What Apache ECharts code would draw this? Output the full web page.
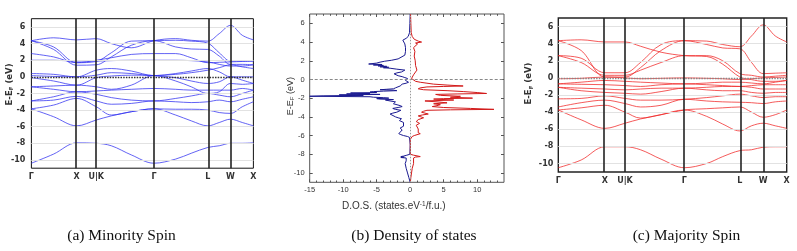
<!DOCTYPE html>
<html><head><meta charset="utf-8">
<script src="https://cdn.jsdelivr.net/npm/echarts@6/dist/echarts.min.js"></script>
<style>html,body{margin:0;padding:0;background:#fff}#c{width:797px;height:251px}</style>
</head><body><div id="c"></div><script>
// k-path sample positions (fraction of path length)
const kPoints = [0, 0.1, 0.204, 0.292, 0.36, 0.45, 0.552, 0.65, 0.72, 0.795, 0.846, 0.897, 0.95, 1.0];
const kTickPos = [0, 0.204, 0.292, 0.552, 0.795, 0.897, 1.0];
const kTickLabels = ['Γ', 'X', 'U|K', 'Γ', 'L', 'W', 'X'];
const energyTicks = [-10, -8, -6, -4, -2, 0, 2, 4, 6];

// Minority spin bands (eV) at kPoints
const minorityBands = [
  [-10.4,-9.3,-7.95,-8.0,-8.3,-9.4,-10.4,-9.9,-9.2,-8.5,-8.3,-8.0,-8.0,-7.95],
  [-3.85,-4.8,-5.9,-5.2,-4.7,-4.2,-3.85,-4.6,-5.3,-5.9,-5.5,-5.1,-5.5,-5.9],
  [-3.85,-3.4,-2.6,-3.6,-4.6,-4.2,-3.85,-3.9,-3.9,-4.0,-4.3,-4.4,-3.6,-3.0],
  [-2.9,-2.8,-2.35,-2.9,-3.3,-3.2,-2.9,-3.0,-3.1,-3.0,-2.8,-3.0,-2.7,-2.4],
  [-2.9,-2.4,-1.8,-2.1,-2.5,-2.8,-2.9,-2.6,-2.3,-2.0,-2.2,-2.4,-2.0,-1.6],
  [-1.2,-1.5,-1.8,-1.7,-1.6,-1.5,-1.4,-1.5,-1.6,-1.6,-1.6,-1.6,-1.4,-1.6],
  [-1.2,-1.1,-1.0,-1.2,-1.5,-1.0,0.15,-0.5,-1.2,-2.0,-1.8,-0.8,-0.9,-0.8],
  [-0.1,-0.5,-1.0,-0.1,0.1,0.2,0.15,-0.1,-0.5,-0.8,-0.6,0.0,-0.4,-0.8],
  [0.15,0.05,0.0,0.2,0.5,0.4,0.15,0.4,0.7,1.0,0.6,0.0,0.0,0.0],
  [0.4,0.3,0.0,0.8,1.0,0.7,0.15,0.3,0.5,0.8,1.1,1.45,1.2,1.0],
  [2.0,2.0,1.9,1.9,1.95,2.0,2.0,2.0,1.95,1.8,1.5,1.3,1.3,1.45],
  [2.8,2.4,1.7,2.0,2.3,2.7,2.8,2.8,2.3,1.7,1.75,1.8,1.85,1.9],
  [4.35,3.3,1.4,1.45,2.4,3.8,4.35,3.6,3.35,3.3,2.5,1.5,1.5,1.45],
  [4.35,4.7,4.45,4.6,4.0,3.5,4.35,4.6,4.4,4.3,5.2,6.2,5.0,4.45],
  [4.35,3.6,1.7,1.85,2.9,4.3,4.35,4.4,4.3,4.05,2.9,1.9,1.9,1.9]
];

// Majority spin bands (eV) at kPoints
const majorityBands = [
  [-10.5,-9.6,-8.05,-8.05,-8.4,-9.5,-10.5,-10.0,-9.2,-8.5,-8.4,-8.1,-8.05,-8.05],
  [-3.75,-4.9,-5.9,-5.3,-4.8,-4.3,-3.75,-4.5,-5.4,-6.2,-5.6,-5.3,-5.6,-5.9],
  [-3.75,-3.5,-3.2,-4.0,-4.7,-4.3,-3.75,-3.6,-3.5,-3.4,-4.0,-4.6,-4.3,-3.75],
  [-3.4,-2.9,-2.6,-3.0,-3.4,-3.2,-2.5,-2.7,-2.8,-2.85,-2.9,-3.0,-2.8,-2.7],
  [-2.45,-2.4,-2.1,-2.4,-2.6,-2.6,-2.5,-2.3,-2.1,-1.9,-2.1,-2.3,-2.2,-2.2],
  [-1.1,-1.5,-1.7,-1.8,-1.9,-1.6,-1.2,-1.4,-1.5,-1.5,-1.7,-1.8,-1.7,-1.7],
  [-1.1,-1.2,-1.3,-1.4,-1.3,-1.2,-1.2,-1.1,-1.0,-1.0,-1.1,-1.3,-1.3,-1.3],
  [-0.7,-0.75,-0.8,-0.9,-1.0,-0.8,-0.7,-0.8,-0.9,-1.0,-0.9,-0.8,-0.8,-0.8],
  [-0.7,-0.5,-0.3,-0.4,-0.5,-0.6,-0.7,-0.6,-0.5,-0.5,-0.6,-0.7,-0.5,-0.3],
  [-0.1,-0.05,0.1,0.0,-0.1,-0.05,0.0,-0.05,-0.1,-0.2,-0.1,0.0,0.05,0.1],
  [2.6,1.8,0.3,0.3,0.9,1.8,2.6,2.6,2.0,0.5,0.3,0.1,0.2,0.3],
  [2.6,2.3,0.6,0.6,1.8,3.9,4.35,3.9,3.5,3.4,1.8,0.5,0.55,0.6],
  [4.35,3.2,0.1,0.1,1.2,3.2,4.35,4.3,3.9,3.64,4.9,6.2,4.9,4.2],
  [4.35,4.45,4.2,4.2,3.7,3.0,2.6,2.5,1.6,0.1,-0.2,-0.4,-0.4,-0.3]
];

// DOS: [energy (eV), states/eV/f.u.]; minority plotted negative
const dosMinority = [
  [7.0,0],[6.0,-0.05],[5.0,-0.1],[4.6,-0.3],[4.4,-0.6],[4.2,-1.1],[4.0,-1.2],[3.8,-0.8],[3.6,-0.6],[3.4,-0.7],
  [3.2,-0.9],[3.0,-0.7],[2.8,-0.5],[2.6,-0.8],[2.4,-1.0],[2.2,-1.8],[2.05,-2.8],[1.95,-3.8],[1.85,-4.5],[1.75,-5.0],
  [1.65,-6.2],[1.6,-4.2],[1.55,-5.5],[1.5,-4.0],[1.45,-4.8],[1.4,-3.5],[1.35,-4.5],[1.3,-3.2],[1.25,-4.0],[1.2,-3.0],
  [1.1,-2.0],[1.0,-0.8],[0.9,-1.0],[0.8,-1.3],[0.7,-2.0],[0.6,-2.4],[0.5,-2.5],[0.4,-1.8],[0.3,-1.2],[0.2,-0.8],
  [0.1,-0.4],[0.0,-0.3],[-0.1,-0.7],[-0.2,-0.5],[-0.3,-0.25],[-0.4,-0.6],[-0.5,-1.2],[-0.6,-1.4],[-0.7,-1.5],[-0.8,-1.7],
  [-0.9,-2.2],[-1.0,-2.5],[-1.05,-3.5],[-1.1,-4.5],[-1.15,-2.5],[-1.2,-2.0],[-1.25,-4.0],[-1.3,-5.5],[-1.35,-6.0],[-1.4,-5.0],
  [-1.45,-8.9],[-1.5,-6.0],[-1.55,-9.5],[-1.6,-4.5],[-1.65,-10.6],[-1.7,-7.0],[-1.75,-13.0],[-1.8,-15.0],[-1.85,-6.0],[-1.9,-5.5],
  [-1.95,-4.0],[-2.0,-3.2],[-2.05,-5.0],[-2.1,-4.5],[-2.15,-2.5],[-2.2,-3.7],[-2.3,-3.0],[-2.4,-2.2],[-2.5,-2.0],[-2.6,-2.5],
  [-2.7,-2.3],[-2.8,-1.5],[-2.9,-1.2],[-3.0,-1.8],[-3.1,-2.6],[-3.2,-2.2],[-3.3,-1.4],[-3.4,-1.2],[-3.5,-2.0],[-3.6,-2.6],
  [-3.7,-3.0],[-3.8,-3.2],[-3.9,-2.8],[-4.0,-2.2],[-4.1,-1.8],[-4.2,-1.3],[-4.4,-1.6],[-4.6,-1.0],[-4.8,-1.2],[-5.0,-1.0],
  [-5.2,-1.5],[-5.4,-1.2],[-5.6,-1.4],[-5.8,-1.7],[-5.9,-1.4],[-6.0,-1.0],[-6.1,-0.4],[-6.2,-0.1],[-6.4,0],[-7.0,0],
  [-8.0,-0.05],[-8.1,-0.5],[-8.2,-1.0],[-8.25,-1.4],[-8.3,-0.9],[-8.35,-1.4],[-8.4,-0.6],[-8.5,-0.5],[-8.7,-0.6],[-9.0,-0.75],
  [-9.5,-0.6],[-10.0,-0.4],[-10.5,-0.2],[-11.0,0]
];
const dosMajority = [
  [7,0.05],[6,0.1],[5,0.15],[4.6,0.3],[4.3,0.6],[4.1,1.2],[4.0,1.7],[3.9,0.8],[3.8,1.1],[3.6,0.9],
  [3.4,0.5],[3.2,0.6],[3.0,0.7],[2.5,0.6],[2.0,0.75],[1.5,0.8],[1.0,1.0],[0.8,0.8],[0.5,0.5],[0.3,0.3],
  [0.1,0.2],[0,0.3],[-0.1,0.4],[-0.2,0.8],[-0.3,1.5],[-0.4,2.5],[-0.5,3.5],[-0.6,5.5],[-0.7,7.9],[-0.75,5.0],
  [-0.8,2.5],[-0.9,1.5],[-1.0,1.2],[-1.1,2.0],[-1.2,5.5],[-1.3,8.0],[-1.4,10.0],[-1.5,11.4],[-1.55,7.0],[-1.6,3.8],
  [-1.7,4.5],[-1.8,7.5],[-1.9,6.0],[-2.0,9.3],[-2.05,5.0],[-2.1,3.5],[-2.2,6.5],[-2.3,2.2],[-2.4,4.0],[-2.5,5.5],
  [-2.6,3.5],[-2.7,4.5],[-2.8,4.0],[-2.9,3.3],[-3.0,5.0],[-3.1,9.0],[-3.2,12.5],[-3.25,6.0],[-3.3,2.5],[-3.4,2.0],
  [-3.5,1.7],[-3.6,2.2],[-3.7,2.7],[-3.8,1.8],[-3.9,1.2],[-4.0,1.6],[-4.1,2.0],[-4.3,1.2],[-4.5,0.9],[-4.7,1.4],
  [-4.9,0.9],[-5.1,0.7],[-5.3,1.2],[-5.5,1.0],[-5.7,1.2],[-5.8,1.5],[-5.9,1.3],[-6.0,0.6],[-6.1,0.3],[-6.2,0.1],
  [-6.4,0.02],[-8.0,0.02],[-8.1,0.5],[-8.2,1.2],[-8.25,1.5],[-8.3,0.8],[-8.4,0.5],[-8.6,0.7],[-9.0,0.5],[-9.5,0.3],
  [-10.0,0.2],[-10.5,0.1],[-11,0.02]
];
const dosTicksX = [-15, -10, -5, 0, 5, 10];
const captions = ['(a) Minority Spin', '(b) Density of states', '(c) Majority Spin'];

const chart = echarts.init(document.getElementById('c'), null, {renderer: 'canvas'});

const bandLabelStyle = {fontFamily: 'DejaVu Sans', fontWeight: 'bold', fontSize: 8, color: '#333'};
function kLabel(v) {
  const i = kTickPos.findIndex(p => Math.abs(p - v) < 1e-6);
  return i >= 0 ? kTickLabels[i] : '';
}
function bandX(grid) {
  return {type: 'value', gridIndex: grid, min: 0, max: 1,
    axisLine: {show: false, onZero: false}, axisTick: {show: false}, splitLine: {show: false},
    axisLabel: Object.assign({customValues: kTickPos, formatter: kLabel, margin: 5}, bandLabelStyle)};
}
function bandY(grid, gap, margin, shift) {
  return {type: 'value', gridIndex: grid, min: -11, max: 7,
    axisLine: {show: false, onZero: false}, axisTick: {show: false}, splitLine: {show: false},
    axisLabel: Object.assign({customValues: energyTicks, margin: margin}, bandLabelStyle),
    name: 'E-E{s|F} (eV)', nameLocation: 'middle', nameRotate: 90, nameGap: gap, nameMoveOverlap: false,
    nameTextStyle: {fontFamily: 'DejaVu Sans', fontWeight: 'bold', fontSize: 8.5, color: '#333',
      padding: [0, 0, 0, shift],
      rich: {s: {fontFamily: 'DejaVu Sans', fontWeight: 'bold', fontSize: 5.5, color: '#333', padding: [5, 0, 0, 0]}}}};
}
function bandSeries(bands, ax, color, fermiColor) {
  const out = [];
  out.push({type: 'line', xAxisIndex: ax, yAxisIndex: ax, data: [[0, 0]], symbol: 'none',
    lineStyle: {opacity: 0}, silent: true, z: 1,
    markLine: {silent: true, symbol: ['none', 'none'], label: {show: false}, animation: false,
      lineStyle: {color: '#e2e2e2', width: 1, type: 'solid'},
      data: energyTicks.filter(v => v !== 0).map(v => ({yAxis: v}))}});
  bands.forEach(b => {
    out.push({type: 'line', xAxisIndex: ax, yAxisIndex: ax, smooth: 0.35, symbol: 'none', z: 2,
      lineStyle: {color: color, width: 0.9}, data: kPoints.map((k, i) => [k, b[i]])});
  });
  out.push({type: 'line', xAxisIndex: ax, yAxisIndex: ax, data: [[0, 0]], symbol: 'none',
    lineStyle: {opacity: 0}, silent: true, z: 3,
    markLine: {silent: true, symbol: ['none', 'none'], label: {show: false}, animation: false,
      data: [
        {yAxis: 0, lineStyle: {color: fermiColor, width: 1.3, type: [1.5, 1.2]}},
        ...kTickPos.slice(1, -1).map(v => ({xAxis: v, lineStyle: {color: '#222', width: 1.6, type: 'solid'}}))
      ]}});
  return out;
}

const dosLabel = {fontFamily: 'Liberation Sans', fontSize: 7.5, color: '#333'};
const dosTick = {inside: true, length: 3, customValues: dosTicksX, lineStyle: {color: '#555'}};
const dosMinor = {show: true, splitNumber: 5, length: 1.8, lineStyle: {color: '#555'}};
const option = {
  animation: false,
  grid: [
    {left: 31.4, top: 18.7, width: 222, height: 149.5, show: true, borderColor: '#111', borderWidth: 1, backgroundColor: 'transparent'},
    {left: 309.7, top: 14, width: 194.3, height: 168.3, show: true, borderColor: '#555', borderWidth: 1, backgroundColor: 'transparent'},
    {left: 558.3, top: 18, width: 228.4, height: 154, show: true, borderColor: '#222', borderWidth: 1.4, backgroundColor: 'transparent'}
  ],
  xAxis: [
    bandX(0),
    {type: 'value', gridIndex: 1, min: -15, max: 14, interval: 5, position: 'bottom',
      axisLine: {show: false, onZero: false}, splitLine: {show: false},
      axisTick: dosTick, minorTick: dosMinor,
      axisLabel: Object.assign({customValues: dosTicksX, margin: 4}, dosLabel),
      name: 'D.O.S. (states.eV{sup|-1}/f.u.)', nameLocation: 'middle', nameGap: 18,
      nameTextStyle: {fontFamily: 'Liberation Sans', fontSize: 10, color: '#333', padding: [0, 26, 0, 0],
        rich: {sup: {fontFamily: 'Liberation Sans', fontSize: 6.5, color: '#333', padding: [0, 0, 5, 0]}}}},
    {type: 'value', gridIndex: 1, min: -15, max: 14, interval: 5, position: 'top',
      axisLine: {show: false, onZero: false}, splitLine: {show: false}, axisLabel: {show: false},
      axisTick: dosTick, minorTick: dosMinor},
    bandX(2)
  ],
  yAxis: [
    bandY(0, 16.5, 6, 18),
    {type: 'value', gridIndex: 1, min: -11, max: 7, position: 'left',
      axisLine: {show: false, onZero: false}, splitLine: {show: false},
      axisTick: {inside: true, length: 3, customValues: energyTicks, lineStyle: {color: '#555'}},
      axisLabel: Object.assign({customValues: energyTicks, margin: 5}, dosLabel),
      name: 'E-E{s|F} (eV)', nameLocation: 'middle', nameRotate: 90, nameGap: 14, nameMoveOverlap: false,
      nameTextStyle: {fontFamily: 'Liberation Sans', fontSize: 9, color: '#333', padding: [0, 0, 0, 4],
        rich: {s: {fontFamily: 'Liberation Sans', fontSize: 6, color: '#333', padding: [5, 0, 0, 0]}}}},
    {type: 'value', gridIndex: 1, min: -11, max: 7, position: 'right',
      axisLine: {show: false, onZero: false}, splitLine: {show: false}, axisLabel: {show: false},
      axisTick: {inside: true, length: 3, customValues: energyTicks, lineStyle: {color: '#555'}}},
    bandY(2, 24, 5, 23)
  ],
  graphic: [
    {type: 'text', x: 121.5, y: 236, style: {text: captions[0], font: '15.5px "Liberation Serif"', fill: '#111', textAlign: 'center', textVerticalAlign: 'middle'}},
    {type: 'text', x: 414, y: 236, style: {text: captions[1], font: '15.5px "Liberation Serif"', fill: '#111', textAlign: 'center', textVerticalAlign: 'middle'}},
    {type: 'text', x: 686.5, y: 236, style: {text: captions[2], font: '15.5px "Liberation Serif"', fill: '#111', textAlign: 'center', textVerticalAlign: 'middle'}}
  ],
  series: [
    ...bandSeries(minorityBands, 0, 'rgba(50,50,240,0.85)', '#333'),
    {type: 'line', xAxisIndex: 1, yAxisIndex: 1, data: [[0, 0]], symbol: 'none', lineStyle: {opacity: 0}, silent: true, z: 1,
      markLine: {silent: true, symbol: ['none', 'none'], label: {show: false}, animation: false,
        data: [
          {yAxis: 0, lineStyle: {color: '#888', width: 1, type: [3, 2]}},
          {xAxis: 0, lineStyle: {color: '#999', width: 1, type: [1.5, 1.5]}}
        ]}},
    {type: 'line', xAxisIndex: 1, yAxisIndex: 1, symbol: 'none', z: 2,
      lineStyle: {color: '#1a1a90', width: 1}, data: dosMinority.map(p => [p[1], p[0]])},
    {type: 'line', xAxisIndex: 1, yAxisIndex: 1, symbol: 'none', z: 2,
      lineStyle: {color: '#d21a1a', width: 1}, data: dosMajority.map(p => [p[1], p[0]])},
    ...bandSeries(majorityBands, 3, 'rgba(240,40,40,0.85)', '#888')
  ]
};
chart.setOption(option);
</script></body></html>
